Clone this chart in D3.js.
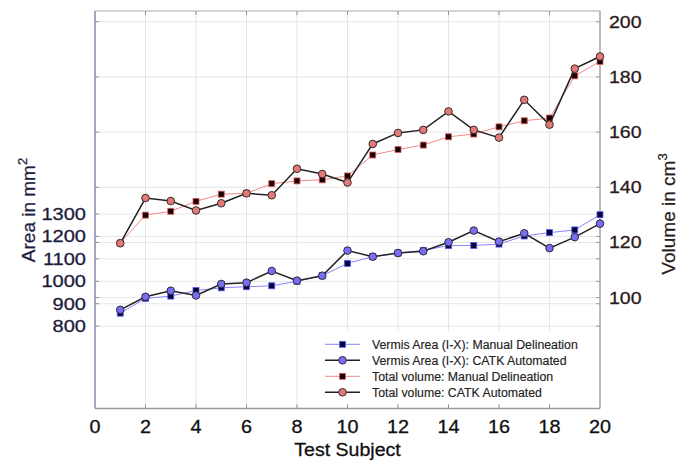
<!DOCTYPE html>
<html><head><meta charset="utf-8">
<script src="https://cdn.jsdelivr.net/npm/d3@7"></script>
<style>body{margin:0;background:#fff}svg{display:block}text{font-family:"Liberation Sans",Arial,Helvetica,sans-serif}</style>
</head><body><svg id="c" width="685" height="461"></svg>
<script>
const subjects = d3.range(1, 21);
const vermisManual = [858, 924, 934, 959, 971, 976, 980, 1000, 1025, 1080, 1110, 1126, 1138, 1159, 1160, 1166, 1202, 1217, 1229, 1297];
const vermisCATK   = [873, 931, 958, 937, 988, 994, 1046, 1003, 1025, 1137, 1110, 1126, 1134, 1174, 1226, 1177, 1214, 1148, 1197, 1257];
const totalManual  = [119.8, 129.9, 131.3, 134.9, 137.5, 137.8, 141.3, 142.3, 142.7, 144.1, 151.7, 153.7, 155.3, 158.3, 159.3, 161.9, 164.1, 165.1, 180.4, 185.6];
const totalCATK    = [119.7, 136.1, 135.0, 131.6, 134.2, 137.8, 137.1, 146.7, 144.8, 141.7, 155.7, 159.7, 160.8, 167.5, 160.8, 158.0, 171.7, 162.7, 183.0, 187.4];
const xTicks = [0, 2, 4, 6, 8, 10, 12, 14, 16, 18, 20];
const leftTicks = [800, 900, 1000, 1100, 1200, 1300];
const rightTicks = [100, 120, 140, 160, 180, 200];
const legendLabels = ["Vermis Area (I-X): Manual Delineation", "Vermis Area (I-X): CATK Automated", "Total volume: Manual Delineation", "Total volume: CATK Automated"];

const svg = d3.select("#c");
const L = 95, R = 600, T = 11, B = 408.5;
const x = d3.scaleLinear().domain([0, 20]).range([L, R]);
const yL = d3.scaleLinear().domain([433, 2205]).range([B, T]);
const yR = d3.scaleLinear().domain([59.8, 203.9]).range([B, T]);

// grid
const grid = svg.append("g").attr("stroke", "#e6e6e6").attr("stroke-width", 1);
xTicks.slice(1, -1).forEach(t => grid.append("line").attr("x1", x(t)).attr("x2", x(t)).attr("y1", T).attr("y2", B));
leftTicks.forEach(t => grid.append("line").attr("x1", L).attr("x2", R).attr("y1", yL(t)).attr("y2", yL(t)));
rightTicks.forEach(t => grid.append("line").attr("x1", L).attr("x2", R).attr("y1", yR(t)).attr("y2", yR(t)));

// legend background
svg.append("rect").attr("x", 306).attr("y", 331).attr("width", 292).attr("height", 73).attr("fill", "#fff");

// ticks (inward, mirrored)
const tk = svg.append("g").attr("stroke", "#8c8c9c").attr("stroke-width", 1);
xTicks.slice(1, -1).forEach(t => {
  tk.append("line").attr("x1", x(t)).attr("x2", x(t)).attr("y1", B).attr("y2", B - 4);
  tk.append("line").attr("x1", x(t)).attr("x2", x(t)).attr("y1", T).attr("y2", T + 4);
});
leftTicks.forEach(t => {
  tk.append("line").attr("x1", L).attr("x2", L + 4).attr("y1", yL(t)).attr("y2", yL(t)).attr("stroke", "#8a8ab0");
  tk.append("line").attr("x1", R).attr("x2", R - 4).attr("y1", yL(t)).attr("y2", yL(t)).attr("stroke", "#a09a9a");
});
rightTicks.forEach(t => {
  tk.append("line").attr("x1", R).attr("x2", R - 4).attr("y1", yR(t)).attr("y2", yR(t)).attr("stroke", "#a09a9a");
  tk.append("line").attr("x1", L).attr("x2", L + 4).attr("y1", yR(t)).attr("y2", yR(t)).attr("stroke", "#8a8ab0");
});

// frame
svg.append("line").attr("x1", L).attr("x2", R).attr("y1", T).attr("y2", T).attr("stroke", "#a8a8a8").attr("stroke-width", 1.2);
svg.append("line").attr("x1", L).attr("x2", R).attr("y1", B).attr("y2", B).attr("stroke", "#9a9a9a").attr("stroke-width", 1.4);
svg.append("line").attr("x1", L).attr("x2", L).attr("y1", T).attr("y2", B).attr("stroke", "#8a8ab0").attr("stroke-width", 1.5);
svg.append("line").attr("x1", R).attr("x2", R).attr("y1", T).attr("y2", B).attr("stroke", "#a49c9c").attr("stroke-width", 1.4);

// stretched text helper
function stext(x0, y0, str, size, sx, anchor, color) {
  const g = svg.append("g").attr("transform", `translate(${x0},${y0}) scale(${sx},1)`);
  return g.append("text").attr("text-anchor", anchor).attr("font-size", size).attr("fill", color)
    .attr("stroke", color).attr("stroke-width", 0.3).text(str);
}
xTicks.forEach(t => stext(x(t), 433.3, String(t), 18, 1.1, "middle", "#111"));
leftTicks.forEach(t => stext(86, yL(t) + 6, String(t), 17, 1.18, "end", "#1c1c3c"));
rightTicks.forEach(t => stext(609, yR(t) + 6, String(t), 17, 1.15, "start", "#2a1c1c"));
stext(347.5, 456, "Test Subject", 18.8, 1.04, "middle", "#111");

// axis titles
const lt = svg.append("text").attr("transform", "translate(34.5,210) rotate(-90)").attr("text-anchor", "middle")
  .attr("font-size", 19).attr("fill", "#1e1e44").attr("stroke", "#1e1e44").attr("stroke-width", 0.25);
lt.append("tspan").text("Area in mm");
lt.append("tspan").attr("font-size", 13).attr("dy", -8).text("2");
const rt = svg.append("text").attr("transform", "translate(675,214) rotate(-90)").attr("text-anchor", "middle")
  .attr("font-size", 19).attr("fill", "#2a1c1c").attr("stroke", "#2a1c1c").attr("stroke-width", 0.25);
rt.append("tspan").text("Volume in cm");
rt.append("tspan").attr("font-size", 13).attr("dy", -8).text("3");

// series
const series = [
  {vals: vermisManual, y: yL, line: "#8c84ff", lw: 1, marker: "sq", fill: "#05053a", stroke: "#5a5aff"},
  {vals: vermisCATK, y: yL, line: "#222", lw: 1.5, marker: "ci", fill: "#7b6df2", stroke: "#2a2a3a"},
  {vals: totalManual, y: yR, line: "#f08a8a", lw: 1, marker: "sq", fill: "#1a0000", stroke: "#e06060"},
  {vals: totalCATK, y: yR, line: "#222", lw: 1.5, marker: "ci", fill: "#e27a78", stroke: "#3a2a2a"}
];
function drawMarker(g, s, cx, cy) {
  if (s.marker === "sq") {
    g.append("rect").attr("x", cx - 3).attr("y", cy - 3).attr("width", 6).attr("height", 6)
      .attr("fill", s.fill).attr("stroke", s.stroke).attr("stroke-width", 0.8);
  } else {
    g.append("circle").attr("cx", cx).attr("cy", cy).attr("r", 3.8)
      .attr("fill", s.fill).attr("stroke", s.stroke).attr("stroke-width", 1);
  }
}
series.forEach(s => {
  const g = svg.append("g");
  const ln = d3.line().x((d, i) => x(subjects[i])).y(d => s.y(d));
  g.append("path").attr("d", ln(s.vals)).attr("fill", "none").attr("stroke", s.line).attr("stroke-width", s.lw);
  s.vals.forEach((v, i) => drawMarker(g, s, x(subjects[i]), s.y(v)));
});

// legend
const leg = svg.append("g");
legendLabels.forEach((lab, i) => {
  const cy = 344.3 + i * 16;
  const s = series[i];
  leg.append("line").attr("x1", 325).attr("x2", 360).attr("y1", cy).attr("y2", cy).attr("stroke", s.line).attr("stroke-width", s.lw);
  drawMarker(leg, s, 342.5, cy);
  leg.append("text").attr("x", 372).attr("y", cy + 4.3).attr("font-size", 12.3).attr("fill", "#222")
    .attr("stroke", "#222").attr("stroke-width", 0.15).text(lab);
});
</script></body></html>
